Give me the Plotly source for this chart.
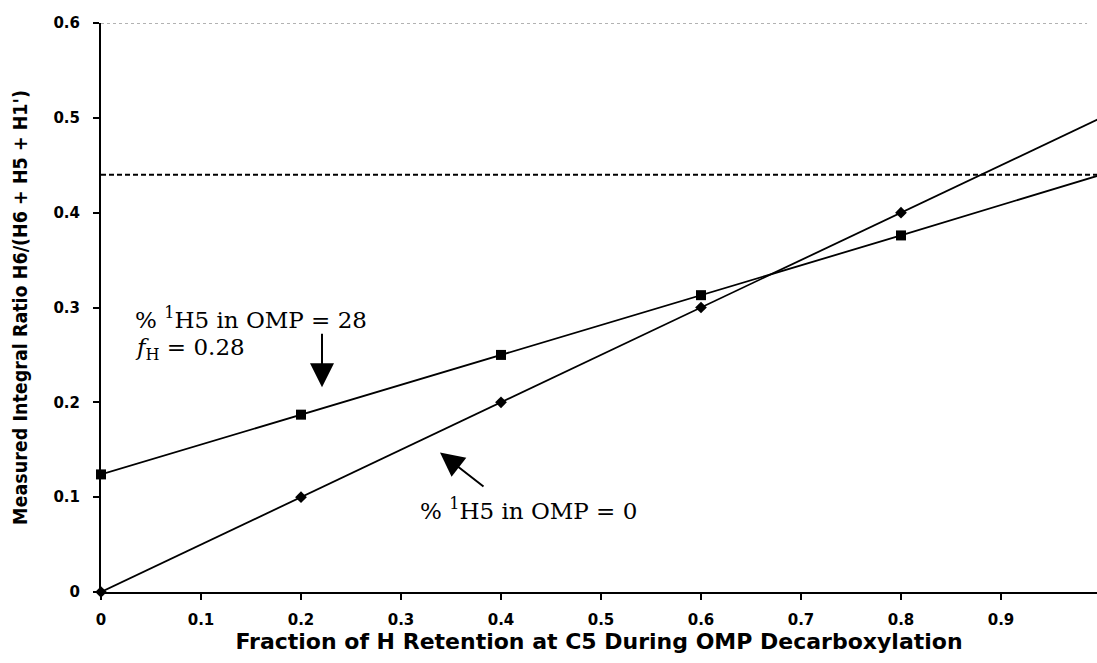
import plotly.graph_objects as go

# Fraction of H retained at C5 (x) and measured H6 integral ratios
retention = [0.0, 0.2, 0.4, 0.6, 0.8, 1.0]
ratio_omp0 = [0.0, 0.1, 0.2, 0.3, 0.4, 0.5]
ratio_omp28 = [0.124, 0.187, 0.25, 0.313, 0.376, 0.44]
observed_ratio = 0.44

x_ticks = [0, 0.1, 0.2, 0.3, 0.4, 0.5, 0.6, 0.7, 0.8, 0.9]
x_ticklabels = ["0", "0.1", "0.2", "0.3", "0.4", "0.5", "0.6", "0.7", "0.8", "0.9"]
y_ticks = [0, 0.1, 0.2, 0.3, 0.4, 0.5, 0.6]
y_ticklabels = ["0", "0.1", "0.2", "0.3", "0.4", "0.5", "0.6"]

serif = "DejaVu Serif, Liberation Serif, serif"
wide_sans = "DejaVu Sans, Verdana, sans-serif"
narrow_sans = "DejaVu Sans Condensed, Liberation Sans Narrow, Arial Narrow, sans-serif"

fig = go.Figure()

fig.add_trace(go.Scatter(
    x=retention, y=ratio_omp0, mode="lines+markers",
    line=dict(color="black", width=1.8),
    marker=dict(symbol="diamond", size=9, color="black"),
    cliponaxis=False, showlegend=False,
))
fig.add_trace(go.Scatter(
    x=retention, y=ratio_omp28, mode="lines+markers",
    line=dict(color="black", width=1.8),
    marker=dict(symbol="square", size=10, color="black"),
    cliponaxis=False, showlegend=False,
))

# observed ratio (dashed) and top frame (dotted)
fig.add_shape(type="line", xref="x", yref="y", x0=0, x1=1, y0=observed_ratio, y1=observed_ratio,
              line=dict(color="black", width=2, dash="5px,3px"))
fig.add_shape(type="line", xref="paper", yref="y", x0=0, x1=0.99, y0=0.6, y1=0.6,
              line=dict(color="#666666", width=1, dash="dot"))

ann_font = dict(family=serif, size=23, color="black")
fig.add_annotation(x=0.032, y=0.289, xref="x", yref="y", text="% <sup>1</sup>H5 in OMP = 28",
                   showarrow=False, xanchor="left", yanchor="middle", font=ann_font)
fig.add_annotation(x=0.032, y=0.256, xref="x", yref="y", text="<i>f</i><sub>H</sub> = 0.28",
                   showarrow=False, xanchor="left", yanchor="middle", font=ann_font)
fig.add_annotation(x=0.317, y=0.088, xref="x", yref="y", text="% <sup>1</sup>H5 in OMP = 0",
                   showarrow=False, xanchor="left", yanchor="middle", font=ann_font)

# arrows pointing to each line
fig.add_annotation(x=0.221, y=0.216, xref="x", yref="y", text="", showarrow=True,
                   ax=0, ay=-55, arrowhead=2, arrowsize=2.4, arrowwidth=2, arrowcolor="black")
fig.add_annotation(x=0.339, y=0.147, xref="x", yref="y", text="", showarrow=True,
                   ax=45, ay=35, arrowhead=2, arrowsize=2.4, arrowwidth=2, arrowcolor="black")

fig.update_layout(
    width=1097, height=663,
    margin=dict(l=101, r=0, t=23, b=71),
    paper_bgcolor="white", plot_bgcolor="white",
    xaxis=dict(
        range=[0, 0.996], tickvals=x_ticks, ticktext=x_ticklabels,
        showline=True, linecolor="black", linewidth=2,
        ticks="outside", ticklen=6, tickwidth=2, tickcolor="black",
        showgrid=False, zeroline=False, ticklabelstandoff=7,
        tickfont=dict(family=wide_sans, size=15, color="black", weight="bold"),
        title=dict(text="Fraction of H Retention at C5 During OMP Decarboxylation",
                   font=dict(family=wide_sans, size=22, color="black", weight="bold"), standoff=1),
    ),
    yaxis=dict(
        range=[0, 0.6], tickvals=y_ticks, ticktext=y_ticklabels,
        showline=True, linecolor="black", linewidth=2,
        ticks="outside", ticklen=6, tickwidth=2, tickcolor="black",
        showgrid=False, zeroline=False, ticklabelstandoff=10,
        tickfont=dict(family=wide_sans, size=15, color="black", weight="bold"),
        title=dict(text="Measured Integral Ratio H6/(H6 + H5 + H1')",
                   font=dict(family=narrow_sans, size=19.5, color="black", weight="bold"), standoff=21),
    ),
)

fig.write_html("out.html")
